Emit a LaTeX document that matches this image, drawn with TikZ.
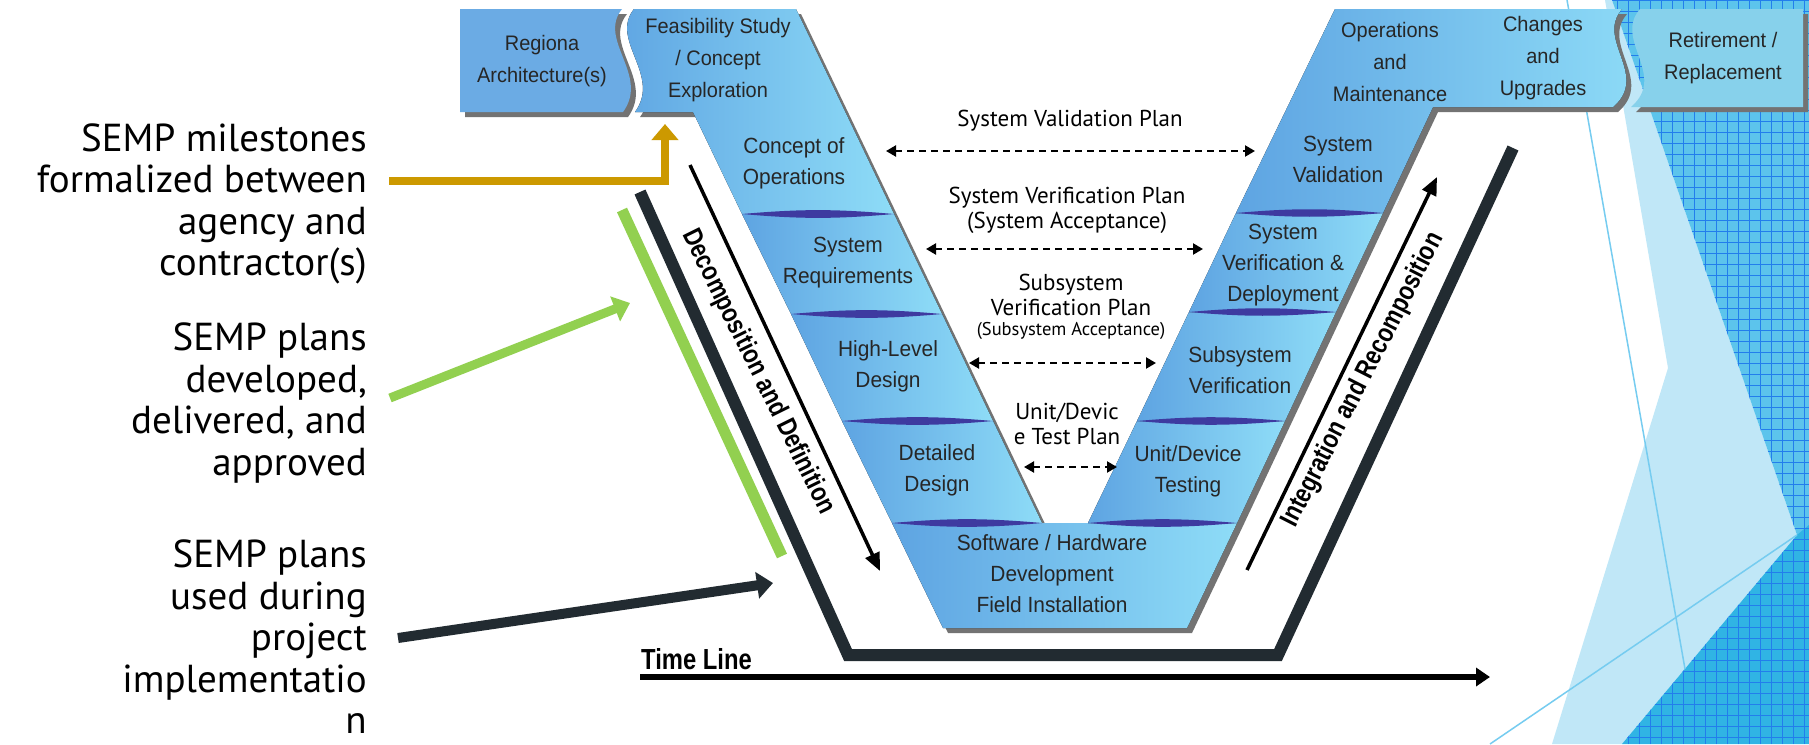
\documentclass[tikz,border=0pt]{standalone}
\usepackage{fontspec}
\usetikzlibrary{arrows.meta,calc}
\newfontfamily\sempfont{PT Sans}
\newfontfamily\vmodelfont[FakeStretch=0.95]{Liberation Sans}
\newfontfamily\stampfont[FakeStretch=0.82]{Liberation Sans}
\definecolor{vleft}{RGB}{94,164,226}
\definecolor{vright}{RGB}{142,220,247}
\definecolor{sepline}{RGB}{62,58,160}
\definecolor{trough}{RGB}{34,43,49}
\definecolor{gold}{RGB}{204,153,0}
\definecolor{lime}{RGB}{146,208,80}
\definecolor{facetpale}{RGB}{192,231,247}
\definecolor{facetmid}{RGB}{92,196,236}
\definecolor{facetdark}{RGB}{48,180,228}
\definecolor{facetline}{RGB}{118,204,240}
\begin{document}
\begin{tikzpicture}[x=1pt,y=-1pt,
    band/.style={left color=vleft,right color=vright},
    vlabel/.style={font=\vmodelfont\fontsize{22}{31}\selectfont,align=center,text=black!85},
    hlabel/.style={font=\vmodelfont\fontsize{21}{32}\selectfont,align=center,text=black!85},
    plan/.style={font=\sempfont\fontsize{23}{25}\selectfont,align=center},
    note/.style={font=\sempfont\fontsize{39}{41.5}\selectfont,align=right,anchor=east,inner sep=0pt},
    stamp/.style={font=\stampfont\bfseries\fontsize{27}{27}\selectfont,inner sep=1pt},
    planarrow/.style={line width=2.2pt,dash pattern=on 7pt off 5pt,{Triangle[length=10pt,width=11pt]}-{Triangle[length=10pt,width=11pt]}},
    pointer/.style={line width=#1,-{Triangle[length=16pt,width=26pt]}}]
  \useasboundingbox (0,0) rectangle (1809,744);
  \fill[white] (0,0) rectangle (1809,744);
  \fill[facetpale] (1605,0) -- (1612,0) -- (1797,535) -- (1622,744) -- (1552,744) -- (1668,368) -- cycle;
  \fill[facetmid] (1612,0) -- (1809,0) -- (1809,540) -- (1797,535) -- cycle;
  \fill[facetdark] (1797,535) -- (1809,525) -- (1809,744) -- (1622,744) -- cycle;
  \begin{scope}
    \clip (1612,0) -- (1809,0) -- (1809,744) -- (1622,744) -- (1797,535) -- cycle;
    \draw[facetdark!70!blue,line width=0.5pt,step=11pt] (1600,744) grid (1809,0);
  \end{scope}
  \draw[facetline,line width=1.5pt] (1567,0) -- (1685,669);
  \draw[facetline,line width=1.5pt] (1490,744) -- (1797,535);

  \begin{scope}[shift={(5,5)},black!55]
    \fill (460,9) -- (622,9) .. controls (597,40) and (650,75) .. (623,112) -- (460,112) -- cycle;
    \fill (634,9) -- (796,9) -- (1042,523) -- (1088,523) -- (1335,9) -- (1622,9) .. controls (1595,40) and (1650,75) .. (1613,107)
      -- (1433,107) -- (1237,523) -- (1187,628) -- (943,628) -- (892,523) -- (693,112) -- (635,112) .. controls (662,75) and (609,40) .. (634,9) -- cycle;
    \fill (1640,9) -- (1803,9) -- (1803,107) -- (1631,107) .. controls (1668,75) and (1613,40) .. (1640,9) -- cycle;
  \end{scope}
  \fill[vleft!92!white] (460,9) -- (622,9) .. controls (597,40) and (650,75) .. (623,112) -- (460,112) -- cycle;
  \fill[band] (634,9) -- (796,9) -- (894,214) -- (742,214) -- (693,112) -- (635,112) .. controls (662,75) and (609,40) .. (634,9) -- cycle;
  \fill[band] (742,214) -- (894,214) -- (942,314) -- (791,314) -- cycle;
  \fill[band] (791,314) -- (942,314) -- (993,421) -- (842,421) -- cycle;
  \fill[band] (842,421) -- (993,421) -- (1042,523) -- (892,523) -- cycle;
  \fill[band] (892,523) -- (1237,523) -- (1187,628) -- (943,628) -- cycle;
  \fill[band] (1137,421) -- (1285,421) -- (1237,523) -- (1088,523) -- cycle;
  \fill[band] (1189,312) -- (1336,312) -- (1285,421) -- (1137,421) -- cycle;
  \fill[band] (1236,213) -- (1383,213) -- (1336,312) -- (1189,312) -- cycle;
  \fill[band] (1335,9) -- (1622,9) .. controls (1595,40) and (1650,75) .. (1613,107) -- (1433,107) -- (1383,213) -- (1236,213) -- cycle;
  \fill[vright!95!black] (1640,9) -- (1803,9) -- (1803,107) -- (1631,107) .. controls (1668,75) and (1613,40) .. (1640,9) -- cycle;
  \foreach \xa/\xb/\yy in {742/894/214,791/942/314,842/993/421,892/1042/523,1236/1383/213,1189/1336/312,1137/1285/421,1088/1237/523}
    \fill[sepline] (\xa,\yy) to[bend left=5] (\xb,\yy) to[bend left=5] (\xa,\yy);

  \node[hlabel] (regional) at (542,61) {Regiona\\Architecture(s)};
  \node[hlabel] (feasibility) at (718,60) {Feasibility Study\\/ Concept\\Exploration};
  \node[vlabel] (conops) at (794,163) {Concept of\\Operations};
  \node[vlabel] (sysreq) at (848,263) {System\\Requirements};
  \node[vlabel] (hld) at (888,366) {High-Level\\Design};
  \node[vlabel] (detailed) at (937,470) {Detailed\\Design};
  \node[vlabel] (swhw) at (1052,574) {Software / Hardware\\Development\\Field Installation};
  \node[vlabel] (unittest) at (1188,471) {Unit/Device\\Testing};
  \node[vlabel] (subsysver) at (1240,370) {Subsystem\\Verification};
  \node[vlabel] (sysverdep) at (1283,265) {System\\Verification \&\\Deployment};
  \node[vlabel] (sysval) at (1338,159) {System\\Validation};
  \node[hlabel] (opsmaint) at (1390,62) {Operations\\and\\Maintenance};
  \node[hlabel] (changes) at (1543,58) {Changes\\and\\Upgrades};
  \node[hlabel] (retire) at (1723,58) {Retirement /\\Replacement};

  \node[plan] (valplan) at (1070,121) {System Validation Plan};
  \node[plan] (sysplan) at (1067,210) {System Verification Plan\\(System Acceptance)};
  \node[plan] (subplan) at (1071,295) {Subsystem\\Verification Plan};
  \node[plan,font=\sempfont\fontsize{18.5}{20}\selectfont] (subaccept) at (1071,331) {(Subsystem Acceptance)};
  \node[plan] (unitplan) at (1067,424) {Unit/Devic\\e Test Plan};
  \foreach \n/\xa/\xb/\yy in {val/886/1255/151,sys/926/1203/249,sub/969/1156/363,unit/1024/1117/467}{
    \coordinate (\n-a) at (\xa,\yy);
    \coordinate (\n-b) at (\xb,\yy);
    \draw[planarrow] (\n-a) -- (\n-b);
  }

  \draw[trough,line width=12pt] (640,192) -- (848,655) -- (1278,655) -- (1513,148);
  \draw[lime,line width=11pt] (622,210) -- (782,556);
  \coordinate (decompstart) at (690,165);
  \coordinate (decompend) at (880,571);
  \coordinate (integstart) at (1247,570);
  \coordinate (integend) at (1437,177);
  \draw[line width=3.5pt,-{Triangle[length=18pt,width=15pt]}] (decompstart) -- (decompend);
  \draw[line width=3.5pt,-{Triangle[length=18pt,width=15pt]}] (integstart) -- (integend);
  \node[stamp,rotate=-63.7] (decomp) at (758,372) {Decomposition and Definition};
  \node[stamp,rotate=63] (integ) at (1363,380) {Integration and Recomposition};
  \node[stamp,anchor=west,font=\stampfont\bfseries\fontsize{29}{29}\selectfont] (timeline) at (640,659) {Time Line};
  \coordinate (timeend) at (1490,677);
  \draw[line width=6pt,-{Triangle[length=14pt,width=18pt]}] (timeline.south west |- timeend) -- (timeend);

  \node[note] (milestones) at (367,204) {SEMP milestones\\formalized between\\agency and\\contractor(s)};
  \node[note] (approvals) at (367,403) {SEMP plans\\developed,\\delivered, and\\approved};
  \node[note] (usage) at (367,637) {SEMP plans\\used during\\project\\implementatio\\n};
  \coordinate (goldturn) at (665,181);
  \coordinate (feasfoot) at (665,124);
  \coordinate (greentip) at (630,303);
  \coordinate (usetip) at (773,583);
  \draw[gold,pointer=8pt] ($(milestones.east |- goldturn)+(22,0)$) -- (goldturn) -- (feasfoot);
  \draw[lime,pointer=9pt] ($(approvals.east)+(23,-5)$) -- (greentip);
  \draw[trough,pointer=10pt] ($(usage.east)+(31,1)$) -- (usetip);
\end{tikzpicture}
\end{document}
